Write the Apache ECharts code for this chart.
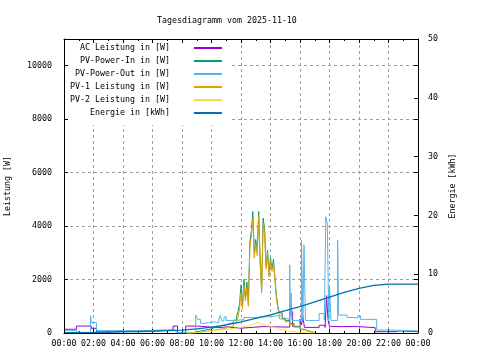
<!DOCTYPE html>
<html>
<head>
<meta charset="utf-8">
<script src="https://cdn.jsdelivr.net/npm/echarts@6/dist/echarts.min.js"></script>
<style>html,body{margin:0;padding:0;background:#fff}#c{width:480px;height:360px}</style>
</head>
<body>
<div id="c"></div>
<script>
// ---- data (hours since midnight, step values) ----
const titleText = "Tagesdiagramm vom 2025-11-10";
const seriesNames = ["AC Leistung in [W]", "PV-Power-In in [W]", "PV-Power-Out in [W]", "PV-1 Leistung in [W]", "PV-2 Leistung in [W]", "Energie in [kWh]"];

const acTimes  = [0, 0.84, 1.85, 2.2, 3.1, 5.35, 7.4, 7.7, 8.25, 9.0, 10.5, 11.0, 12.0, 13.5, 15.3, 15.5, 16.0, 16.1, 16.2, 16.3, 17.3, 17.7, 17.8, 17.9, 18.0, 19.9, 21.1, 22.5, 22.7, 24];
const acValues = [140, 260, 175, 40, 90, 110, 260, 0, 260, 200, 230, 180, 240, 220, 800, 240, 520, 300, 600, 210, 290, 210, 1400, 490, 240, 200, 50, 80, 50, 50];

const outTimes  = [0, 0.85, 1.8, 1.85, 2.2, 7.6, 8.93, 9.05, 9.25, 9.5, 9.8, 10.1, 10.5, 10.6, 10.7, 10.85, 11.0, 11.6, 12.2, 13.0, 13.5, 14.0, 14.6, 15.3, 15.35, 15.4, 15.45, 16.1, 16.2, 16.27, 16.37, 17.3, 17.65, 17.75, 17.85, 17.95, 18.0, 18.1, 18.55, 18.62, 19.2, 19.6, 19.9, 20.1, 21.2, 22.0, 24];
const outValues = [100, 25, 640, 390, 90, 10, 675, 510, 360, 390, 420, 380, 520, 650, 450, 600, 470, 500, 580, 600, 620, 650, 530, 2550, 600, 1500, 470, 3480, 470, 3300, 470, 730, 470, 4350, 4100, 470, 1800, 470, 3480, 670, 580, 560, 640, 510, 110, 80, 70];

const pvTimes = [8.3, 8.6, 9.0, 9.3, 9.6, 10.0, 10.3, 10.6, 10.9, 11.2, 11.5, 11.7, 11.8, 11.9, 12.0, 12.1, 12.2, 12.3, 12.4, 12.5, 12.6, 12.7, 12.8, 12.9, 13.0, 13.1, 13.2, 13.3, 13.4, 13.5, 13.6, 13.7, 13.8, 13.9, 14.0, 14.1, 14.2, 14.3, 14.4, 14.5, 14.6, 14.8, 15.0, 15.3, 15.6, 16.0, 16.3, 16.6, 17.0];
const pvInValues = [0, 40, 80, 110, 160, 220, 260, 300, 340, 400, 480, 600, 800, 1100, 1800, 1000, 2000, 1300, 1900, 1100, 3400, 3800, 4550, 3000, 3500, 3100, 4550, 2700, 1600, 4300, 3900, 2500, 3100, 2200, 2800, 2400, 2750, 2100, 1400, 1000, 750, 560, 470, 360, 250, 140, 70, 15, 0];
const pv1Values  = [0, 20, 40, 60, 90, 120, 150, 170, 220, 260, 350, 450, 600, 900, 1500, 900, 1800, 1200, 1700, 1000, 3200, 3600, 4300, 2800, 3300, 2900, 4400, 2600, 1500, 4100, 3700, 2400, 3000, 2100, 2700, 2300, 2600, 2000, 1300, 900, 650, 500, 420, 320, 220, 120, 60, 10, 0];
const pv2Values  = [0, 10, 30, 50, 70, 100, 120, 130, 150, 170, 180, 190, 200, 210, 230, 220, 250, 240, 260, 250, 300, 320, 360, 330, 380, 350, 390, 330, 300, 340, 300, 260, 270, 230, 230, 200, 210, 180, 150, 130, 110, 90, 70, 50, 30, 15, 5, 0, 0];

const energyTimes  = [0, 1, 2, 3, 4, 5, 6, 7, 8, 9, 10, 11, 12, 13, 14, 15, 16, 17, 18, 19, 20, 21, 22, 24];
const energyValues = [0.05, 0.08, 0.1, 0.15, 0.2, 0.25, 0.3, 0.4, 0.5, 0.7, 1.0, 1.4, 1.9, 2.5, 3.1, 3.8, 4.5, 5.3, 6.1, 6.9, 7.6, 8.1, 8.3, 8.3];

const colors = ["#9400d3", "#009e73", "#56b4e9", "#e69f00", "#f0e442", "#0072b2"];

// ---- build ----
const zip = (t, v) => t.map((x, i) => [x, v[i]]);
const FONT = "DejaVu Sans Mono";
const FS = 8.3;
const gridDash = {color: "#a0a0a0", width: 1, type: [3, 3]};

function lineSeries(name, data, color, yIdx, step, width) {
  return {
    name, type: "line", data, yAxisIndex: yIdx, xAxisIndex: 0,
    step: step ? "end" : false, symbol: "none", showSymbol: false,
    lineStyle: {color, width: width || 1}, itemStyle: {color},
    animation: false
  };
}

const chart = echarts.init(document.getElementById("c"), null, {renderer: "canvas"});
chart.setOption({
  animation: false,
  backgroundColor: "#fff",
  textStyle: {fontFamily: FONT},
  title: {
    text: titleText, left: 152, top: 12,
    textStyle: {fontFamily: FONT, fontSize: FS, fontWeight: "normal", color: "#000"}
  },
  legend: {
    orient: "vertical", left: 64, top: 39, z: 5,
    align: "right", itemWidth: 28, itemHeight: 8, itemGap: 5,
    backgroundColor: "#fff", padding: [5, 7, 8, 6],
    itemStyle: {opacity: 0},
    textStyle: {fontFamily: FONT, fontSize: FS, color: "#000", lineHeight: 8, padding: [0, 19, 0, 0]},
    data: seriesNames, selectedMode: false
  },
  grid: {left: 64, right: 62, top: 39, bottom: 27, outerBoundsMode: "none", containLabel: false},
  xAxis: [
    {
      type: "value", position: "bottom", min: 0, max: 24, interval: 2, z: 0,
      axisLine: {show: true, onZero: false, lineStyle: {color: "#000", width: 1}},
      axisTick: {show: true, inside: true, length: 4, lineStyle: {color: "#000"}},
      minorTick: {show: true, splitNumber: 2, length: 2, lineStyle: {color: "#000"}},
      axisLabel: {
        margin: 7, color: "#000", fontFamily: FONT, fontSize: FS,
        formatter: v => String(v % 24).padStart(2, "0") + ":00"
      },
      splitLine: {show: true, showMinLine: false, showMaxLine: false, lineStyle: gridDash}
    },
    {
      type: "value", position: "top", min: 0, max: 24, interval: 2, z: 10,
      axisLine: {show: true, onZero: false, lineStyle: {color: "#000", width: 1}},
      axisTick: {show: true, inside: true, length: 4, lineStyle: {color: "#000"}},
      minorTick: {show: true, splitNumber: 2, length: 2, lineStyle: {color: "#000"}},
      axisLabel: {show: false}, splitLine: {show: false}
    }
  ],
  yAxis: [
    {
      type: "value", position: "left", min: 0, max: 11000, interval: 2000, z: 10,
      name: "Leistung [W]", nameLocation: "middle", nameRotate: 90, nameGap: 52,
      nameTextStyle: {fontFamily: FONT, fontSize: FS, color: "#000"},
      axisLine: {show: true, onZero: false, lineStyle: {color: "#000", width: 1}},
      axisTick: {show: true, inside: true, length: 4, lineStyle: {color: "#000"}},
      axisLabel: {margin: 12, color: "#000", fontFamily: FONT, fontSize: FS, showMaxLabel: false, formatter: v => String(v)},
      splitLine: {show: false}
    },
    {
      type: "value", position: "right", min: 0, max: 50, interval: 10, z: 10,
      name: "Energie [kWh]", nameLocation: "middle", nameRotate: 90, nameGap: 30,
      nameTextStyle: {fontFamily: FONT, fontSize: FS, color: "#000"},
      axisLine: {show: true, onZero: false, lineStyle: {color: "#000", width: 1}},
      axisTick: {show: true, inside: true, length: 4, lineStyle: {color: "#000"}},
      axisLabel: {margin: 10, color: "#000", fontFamily: FONT, fontSize: FS, formatter: v => String(v)},
      splitLine: {show: false}
    },
    {
      type: "value", position: "right", min: 0, max: 11000, interval: 2000, z: 0,
      axisLine: {show: false, onZero: false},
      axisTick: {show: true, inside: true, length: 4, lineStyle: {color: "#000"}},
      axisLabel: {show: false},
      splitLine: {show: true, showMinLine: false, showMaxLine: false, lineStyle: gridDash}
    }
  ],
  series: [
    lineSeries(seriesNames[0], zip(acTimes, acValues), colors[0], 0, true),
    lineSeries(seriesNames[1], zip(pvTimes, pvInValues), colors[1], 0, true),
    lineSeries(seriesNames[2], zip(outTimes, outValues), colors[2], 0, true),
    lineSeries(seriesNames[3], zip(pvTimes, pv1Values), colors[3], 0, true),
    lineSeries(seriesNames[4], zip(pvTimes, pv2Values), colors[4], 0, true),
    lineSeries(seriesNames[5], zip(energyTimes, energyValues), colors[5], 1, false, 1.3)
  ]
});
</script>
</body>
</html>
